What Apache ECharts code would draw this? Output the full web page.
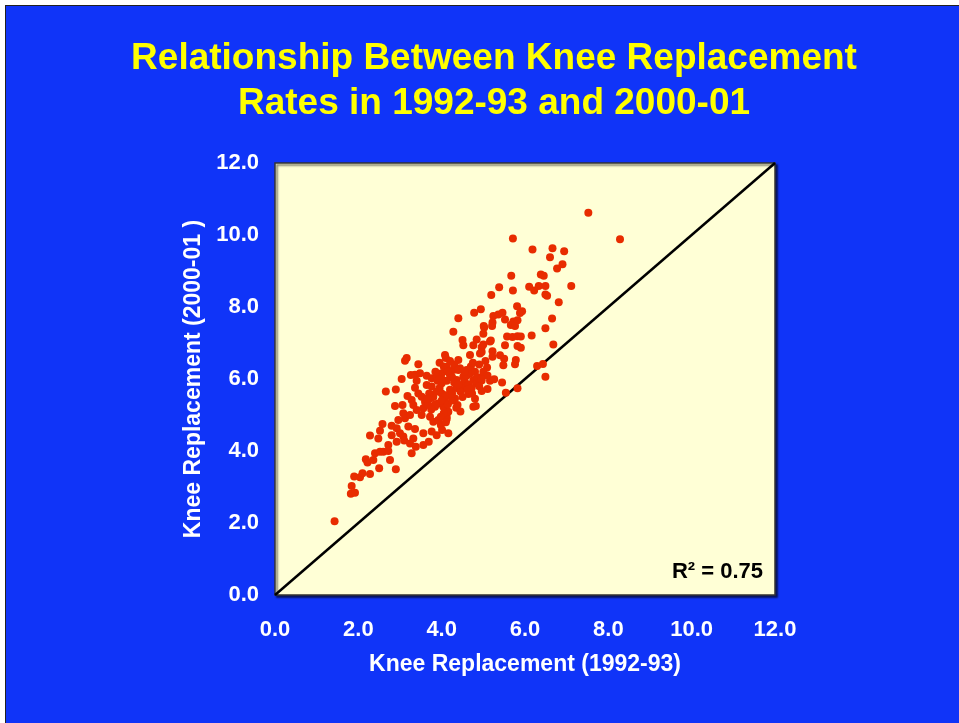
<!DOCTYPE html>
<html>
<head>
<meta charset="utf-8">
<script src="https://cdn.jsdelivr.net/npm/echarts@6/dist/echarts.min.js"></script>
<style>
	html, body { margin: 0; padding: 0; background: #ffffff; }
	#slide { position: absolute; left: 5px; top: 5px; width: 960px; height: 724px; background: #1034f8; border: 1px solid #222; }
	#main { position: absolute; left: 0; top: 0; width: 959px; height: 723px; }
</style>
</head>
<body>
<div id="slide"></div>
<div id="main"></div>
<script>
// 1992-93 rate (x) and 2000-01 rate (y)
var rate1992 = [
	7.52, 8.28, 5.71, 6.18, 6.66, 6.94, 6.60, 6.90, 6.77, 6.38, 6.45, 5.67, 5.38, 5.71, 6.10, 6.22, 6.33, 6.49, 7.11, 5.19,
	6.49, 6.53, 6.81, 5.81, 5.93, 5.88, 4.94, 5.24, 5.36, 5.46, 6.65, 5.22, 5.52, 5.72, 5.82, 5.66, 5.76, 5.01, 5.21, 6.49,
	6.16, 5.57, 5.70, 5.82, 5.90, 5.18, 6.68, 5.52, 5.82, 5.90, 4.96, 4.96, 5.22, 5.22, 5.40, 5.50, 5.78, 5.76, 5.48, 5.09,
	6.29, 6.43, 6.49, 4.96, 4.96, 5.16, 5.26, 5.45, 4.96, 5.10, 5.82, 5.54, 4.76, 4.82, 4.38, 4.16, 4.12, 4.12, 3.98, 4.01,
	4.64, 4.73, 4.52, 4.50, 4.76, 5.00, 5.16, 4.08, 4.40, 4.68, 4.92, 4.28, 4.44, 4.60, 4.52, 4.68, 4.76, 4.84, 4.36, 4.20,
	4.12, 4.00, 4.00, 4.00, 4.08, 4.04, 4.16, 4.44, 4.56, 4.20, 4.32, 3.16, 3.12, 3.44, 3.04, 3.26, 3.36, 3.48, 3.40, 3.64,
	3.76, 3.88, 2.66, 2.90, 3.36, 3.64, 3.76, 3.18, 3.28, 3.44, 3.52, 3.60, 3.72, 3.80, 3.88, 2.88, 3.06, 3.32, 3.40, 3.56,
	3.68, 3.84, 3.92, 3.08, 3.12, 2.96, 3.24, 3.52, 3.72, 3.80, 3.92, 2.58, 2.80, 2.92, 3.20, 3.36, 2.52, 2.28, 2.48, 2.80,
	3.00, 3.08, 3.32, 3.56, 3.76, 3.88, 2.72, 2.92, 3.10, 3.24, 3.38, 3.56, 3.69, 2.40, 2.52, 2.60, 2.72, 2.18, 2.22, 2.36,
	3.28, 2.76, 2.50, 2.90, 2.28, 2.04, 2.10, 1.90, 1.84, 1.82, 1.92, 1.43, 4.28, 4.84, 4.10, 4.40, 4.78, 5.02, 5.00,
	3.95, 4.05, 4.15, 4.25, 4.30, 4.35, 4.45, 4.50, 4.55, 4.60, 4.65, 4.70, 4.75, 4.80, 4.85, 4.90, 4.20, 4.10, 4.00, 3.95,
	3.90, 3.85, 3.80, 3.70, 3.65, 4.15, 4.25, 4.35, 4.45, 4.05, 3.98, 4.10, 4.20, 4.30, 4.40, 4.55, 4.62, 4.72, 4.80, 4.90,
	5.00, 5.05, 5.10, 4.95, 4.40, 4.25, 3.85, 3.75, 4.00, 4.12
];
var rate2000 = [
	10.62, 9.88, 9.90, 9.60, 9.63, 9.55, 9.38, 9.19, 9.07, 8.90, 8.87, 8.87, 8.55, 8.46, 8.56, 8.46, 8.58, 8.58, 8.58, 8.33,
	8.35, 8.31, 8.13, 8.02, 7.88, 7.83, 7.94, 7.75, 7.79, 7.84, 7.68, 7.57, 7.65, 7.60, 7.63, 7.50, 7.47, 7.47, 7.47, 7.41,
	7.21, 7.18, 7.17, 7.19, 7.18, 7.07, 6.96, 6.94, 6.92, 6.87, 6.88, 6.75, 6.77, 6.62, 6.66, 6.56, 6.53, 6.41, 6.38, 6.32,
	6.36, 6.42, 6.06, 6.05, 5.96, 5.95, 5.99, 5.90, 5.67, 5.72, 5.74, 5.62, 5.23, 5.25, 5.28, 4.49, 4.95, 4.89, 4.72, 4.58,
	5.58, 5.60, 6.94, 7.08, 6.94, 6.96, 7.04, 6.67, 6.53, 6.67, 6.71, 6.25, 6.30, 6.25, 6.06, 6.16, 5.97, 5.88, 5.97, 6.11,
	6.34, 6.16, 5.88, 5.60, 5.46, 5.23, 5.09, 5.79, 5.79, 5.56, 5.46, 6.58, 6.51, 6.41, 6.00, 6.11, 6.12, 6.16, 5.95, 6.09,
	6.02, 6.06, 5.65, 5.71, 5.76, 5.83, 5.79, 5.53, 5.42, 5.60, 5.51, 5.37, 5.46, 5.56, 5.65, 5.25, 5.28, 5.28, 5.14, 5.19,
	5.28, 5.23, 5.32, 5.05, 4.91, 4.86, 5.00, 5.00, 4.95, 4.81, 4.86, 4.75, 4.70, 4.63, 4.68, 4.61, 4.56, 4.43, 4.35, 4.44,
	4.49, 4.40, 4.35, 4.49, 4.54, 4.44, 4.17, 4.26, 4.29, 4.21, 4.12, 4.17, 4.26, 3.94, 3.98, 3.98, 4.00, 3.77, 3.68, 3.75,
	3.94, 3.75, 3.52, 3.49, 3.36, 3.27, 3.38, 3.29, 3.03, 2.81, 2.84, 2.05, 7.31, 7.10, 6.58, 7.69, 7.84, 7.43, 7.26,
	6.45, 6.35, 6.20, 6.05, 5.90, 5.75, 5.65, 5.50, 5.95, 6.10, 5.85, 6.35, 6.45, 6.20, 6.05, 5.80, 5.70, 5.55, 5.40, 5.75,
	5.95, 6.20, 5.50, 5.60, 5.45, 5.30, 5.40, 5.20, 5.10, 5.05, 4.95, 4.80, 6.50, 6.40, 6.25, 6.20, 5.70, 5.75, 5.45, 6.40,
	6.20, 6.50, 6.10, 6.00, 5.85, 5.60, 5.30, 5.15, 6.00, 5.95
];
var axisTicks = [0, 2, 4, 6, 8, 10, 12];
var diagLine = [[0, 0], [12, 12]];

var scatterData = rate1992.map(function(x, i) {
	return [x, rate2000[i]];
});

var labelStyle = {
	color : '#ffffff',
	fontFamily : 'Liberation Sans, Arial, sans-serif',
	fontWeight : 'bold',
	fontSize : 22,
	textShadowColor : '#000000',
	textShadowOffsetX : 1.5,
	textShadowOffsetY : 1.5,
	textShadowBlur : 0
};
var nameStyle = Object.assign({}, labelStyle, { fontSize : 23 });

var chart = echarts.init(document.getElementById('main'), null, { renderer : 'canvas' });
chart.setOption({
	backgroundColor : 'transparent',
	animation : false,
	title : [ {
		text : 'Relationship Between Knee Replacement\nRates in 1992-93 and 2000-01',
		left : 489,
		top : 31,
		textAlign : 'center',
		textStyle : {
			color : '#ffff00',
			fontFamily : 'Liberation Sans, Arial, sans-serif',
			fontWeight : 'bold',
			fontSize : 37,
			lineHeight : 45,
			textShadowColor : '#000000',
			textShadowOffsetX : 2.5,
			textShadowOffsetY : 2.5,
			textShadowBlur : 0
		}
	}, { // R2 in the corner
		text : 'R\u00b2 = 0.75',
		right : 191,
		top : 556,
		textStyle : {
			color : '#000000',
			fontFamily : 'Liberation Sans, Arial, sans-serif',
			fontWeight : 'bold',
			fontSize : 22
		}
	} ],
	grid : {
		show : true,
		left : 275,
		right : 184,
		top : 163,
		bottom : 128,
		backgroundColor : '#ffffd6',
		borderColor : '#333333',
		borderWidth : 1.5,
		shadowColor : 'rgba(0,0,0,0.6)',
		shadowOffsetX : 2,
		shadowOffsetY : 2,
		shadowBlur : 2
	},
	xAxis : {
		type : 'value',
		min : axisTicks[0],
		max : axisTicks[axisTicks.length - 1],
		interval : 2,
		name : 'Knee Replacement (1992-93)',
		nameLocation : 'middle',
		nameGap : 58,
		nameTextStyle : nameStyle,
		axisLine : { show : false },
		axisTick : { show : false },
		splitLine : { show : false },
		axisLabel : Object.assign({ margin : 24, formatter : function(v) { return v.toFixed(1); } }, labelStyle)
	},
	yAxis : {
		type : 'value',
		min : axisTicks[0],
		max : axisTicks[axisTicks.length - 1],
		interval : 2,
		name : 'Knee Replacement (2000-01 )',
		nameLocation : 'middle',
		nameGap : 70,
		nameTextStyle : nameStyle,
		axisLine : { show : false },
		axisTick : { show : false },
		splitLine : { show : false },
		axisLabel : Object.assign({ margin : 16, formatter : function(v) { return v.toFixed(1); } }, labelStyle)
	},
	series : [ {
		type : 'line',
		data : diagLine,
		symbol : 'none',
		silent : true,
		lineStyle : { color : '#000000', width : 2.5 },
		z : 1
	}, {
		type : 'scatter',
		data : scatterData,
		symbolSize : 8,
		itemStyle : { color : '#e82c00', opacity : 1 },
		z : 2
	} ]
});
</script>
</body>
</html>
